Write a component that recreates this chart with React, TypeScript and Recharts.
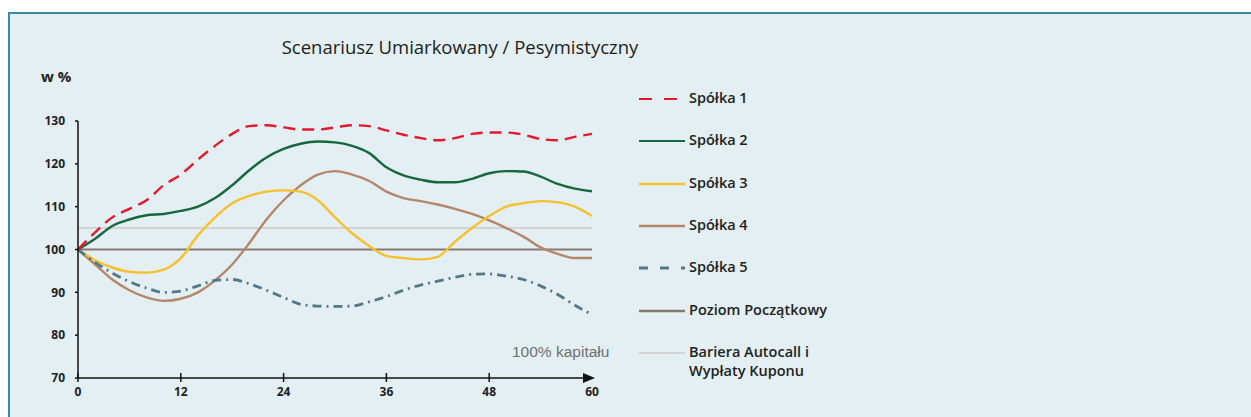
import React from 'react';
import { LineChart, Line, XAxis, YAxis, ReferenceLine, ReferenceDot, Legend } from 'recharts';

// months from start
const months = [0, 2, 4, 6, 8, 10, 12, 14, 16, 18, 20, 22, 24, 26, 28, 30, 32, 34, 36, 38, 40, 42, 44, 46, 48, 50, 52, 54, 56, 58, 60];

const spolka1 = [100, 104, 107.5, 109.5, 111.5, 115, 117.5, 121, 124.2, 127, 128.8, 129, 128.5, 128, 128, 128.5, 129, 128.8, 127.8, 126.8, 126, 125.5, 126, 127, 127.3, 127.3, 126.8, 125.8, 125.5, 126.3, 127];
const spolka2 = [100, 102.5, 105.5, 107, 108, 108.3, 109, 110, 112, 115, 118.5, 121.5, 123.5, 124.7, 125.2, 125, 124.2, 122.5, 119.2, 117.3, 116.3, 115.7, 115.7, 116.5, 117.8, 118.3, 118.2, 117, 115.3, 114.2, 113.6];
const spolka3 = [100, 97.5, 95.8, 94.8, 94.6, 95.3, 98, 103.3, 107.5, 110.8, 112.5, 113.5, 113.8, 113.5, 111.5, 107.5, 103.8, 100.8, 98.5, 98, 97.7, 98.3, 101.8, 105, 107.8, 110, 110.8, 111.3, 111, 110, 107.8];
const spolka4 = [100, 96.5, 93, 90.5, 88.8, 88, 88.5, 90, 92.8, 96.5, 101.5, 107, 111.5, 115, 117.5, 118.3, 117.5, 116, 113.5, 112, 111.3, 110.5, 109.5, 108.3, 106.8, 105, 103, 100.5, 99, 98, 98];
const spolka5 = [100, 97, 94.5, 92.5, 91, 90, 90.3, 91.5, 92.8, 93, 92, 90.5, 88.8, 87.2, 86.8, 86.7, 86.8, 87.8, 89, 90.5, 91.7, 92.6, 93.5, 94.2, 94.3, 93.8, 93, 91.5, 89.5, 87, 84.8];

const poziomPoczatkowy = 100;
const barieraAutocall = 105;

const xTicks = [0, 12, 24, 36, 48, 60];
const yTicks = [70, 80, 90, 100, 110, 120, 130];

const data = months.map((m, i) => ({
  m,
  s1: spolka1[i],
  s2: spolka2[i],
  s3: spolka3[i],
  s4: spolka4[i],
  s5: spolka5[i],
}));

const FONT = '"Open Sans", "DejaVu Sans", sans-serif';

const legendItems = [
  { label: 'Spółka 1', color: '#e3192c', dash: '13 12', width: 2.2 },
  { label: 'Spółka 2', color: '#17683f', dash: undefined, width: 2.2 },
  { label: 'Spółka 3', color: '#f6c02e', dash: undefined, width: 2.6 },
  { label: 'Spółka 4', color: '#b4876c', dash: undefined, width: 2.6 },
  { label: 'Spółka 5', color: '#557889', dash: '9 12', width: 3 },
  { label: 'Poziom Początkowy', color: '#857a72', dash: undefined, width: 2.4 },
  { label: 'Bariera Autocall i\nWypłaty Kuponu', color: '#d2d4d4', dash: undefined, width: 2 },
];

const renderLegend = () => (
  <div style={{ position: 'relative', width: 240, height: 300 }}>
    {legendItems.map((it, i) => (
      <div key={it.label} style={{ position: 'absolute', left: 0, top: i * 42.3, height: 20, width: 240 }}>
        <svg width={48} height={6} style={{ position: 'absolute', left: 0, top: 7 }}>
          <line x1={1} x2={47} y1={3} y2={3} stroke={it.color} strokeWidth={it.width} strokeDasharray={it.dash} />
        </svg>
        <div
          style={{
            position: 'absolute',
            left: 51,
            top: -1,
            fontFamily: FONT,
            fontSize: 14.5,
            fontWeight: 600,
            color: '#222',
            lineHeight: '19px',
            whiteSpace: 'pre',
            textAlign: 'left',
          }}
        >
          {it.label}
        </div>
      </div>
    ))}
  </div>
);

const XTick = (props: any) => {
  const { x, y, payload } = props;
  return (
    <g>
      {payload.value !== 60 && (
        <line x1={x} x2={x} y1={y - 5} y2={y + 4} stroke="#111" strokeWidth={1.5} />
      )}
      <text
        x={x}
        y={y + 18}
        textAnchor="middle"
        fontFamily={FONT}
        fontSize={12}
        fontWeight={700}
        fill="#222"
      >
        {payload.value}
      </text>
    </g>
  );
};

const Arrow = (props: any) => {
  const { cx, cy } = props;
  return <path d={`M${cx - 9},${cy - 5} L${cx + 3},${cy} L${cx - 9},${cy + 5} Z`} fill="#111" />;
};

export default function App() {
  return (
    <div
      style={{
        position: 'fixed',
        left: 8,
        top: 12,
        width: 1243,
        height: 405,
        boxSizing: 'border-box',
        borderLeft: '2px solid #3b8aa1',
        borderTop: '2px solid #3b8aa1',
        background: '#e3eff2',
        overflow: 'hidden',
      }}
    >
      <div
        style={{
          position: 'absolute',
          left: 250,
          top: 20,
          width: 400,
          textAlign: 'center',
          fontFamily: FONT,
          fontSize: 18.5,
          color: '#1d1d1d',
        }}
      >
        Scenariusz Umiarkowany / Pesymistyczny
      </div>
      <div
        style={{
          position: 'absolute',
          left: 31,
          top: 52,
          fontFamily: FONT,
          fontSize: 15,
          fontWeight: 700,
          color: '#222',
        }}
      >
        w %
      </div>
      <div
        style={{
          position: 'absolute',
          left: 502,
          top: 329,
          fontFamily: '"Liberation Sans", "Open Sans", sans-serif',
          fontSize: 15.5,
          color: '#6f6f6f',
        }}
      >
        100% kapitału
      </div>
      <LineChart
        width={1200}
        height={400}
        data={data}
        margin={{ top: 107, right: 618, bottom: 6, left: 28 }}
        style={{ position: 'absolute', left: 0, top: 0 }}
      >
        <XAxis
          dataKey="m"
          type="number"
          domain={[0, 60]}
          ticks={xTicks}
          height={30}
          tickSize={0}
          tickMargin={0}
          tick={<XTick />}
          axisLine={{ stroke: '#111', strokeWidth: 1.5 }}
        />
        <YAxis
          type="number"
          domain={[70, 130]}
          ticks={yTicks}
          width={40}
          tickSize={3}
          tickMargin={10}
          tickLine={{ stroke: '#111', strokeWidth: 1.5 }}
          axisLine={{ stroke: '#111', strokeWidth: 1.5 }}
          tick={{ fontFamily: FONT, fontSize: 12, fontWeight: 700, fill: '#222' }}
        />
        <ReferenceLine y={barieraAutocall} stroke="#d2d4d4" strokeWidth={2} />
        <ReferenceLine y={poziomPoczatkowy} stroke="#857a72" strokeWidth={2} />
        <Line type="monotone" dataKey="s4" stroke="#b4876c" strokeWidth={2.4} dot={false} isAnimationActive={false} />
        <Line type="monotone" dataKey="s3" stroke="#f6c02e" strokeWidth={2.4} dot={false} isAnimationActive={false} />
        <Line type="monotone" dataKey="s5" stroke="#557889" strokeWidth={2.8} strokeDasharray="9 5 2 5" dot={false} isAnimationActive={false} />
        <Line type="monotone" dataKey="s2" stroke="#17683f" strokeWidth={2.4} dot={false} isAnimationActive={false} />
        <Line type="monotone" dataKey="s1" stroke="#e3192c" strokeWidth={2.4} strokeDasharray="12 7" dot={false} isAnimationActive={false} />
        <ReferenceDot x={60} y={70} r={0} shape={<Arrow />} ifOverflow="visible" />
        <Legend
          layout="vertical"
          align="center"
          verticalAlign="middle"
          content={renderLegend}
          wrapperStyle={{ position: 'absolute', left: 628, top: 75, width: 240, height: 300 }}
        />
      </LineChart>
    </div>
  );
}
